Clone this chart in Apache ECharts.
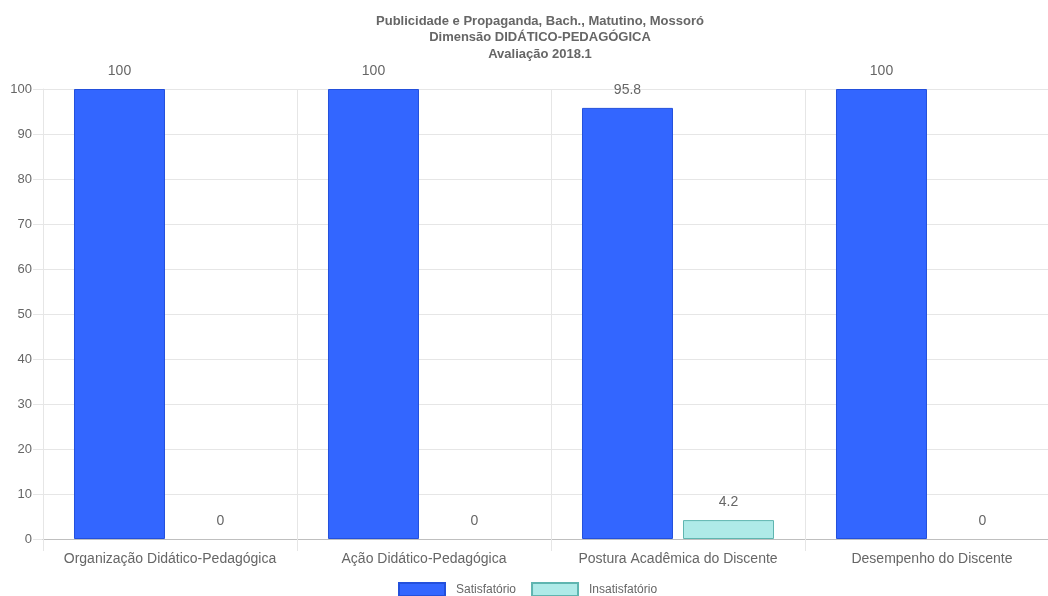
<!DOCTYPE html>
<html>
<head>
<meta charset="utf-8">
<script src="https://cdn.jsdelivr.net/npm/echarts@6/dist/echarts.min.js"></script>
<style>
html,body{margin:0;padding:0;background:#fff;overflow:hidden;width:1048px;height:596px;}
#chart{width:1062px;height:596px;}
</style>
</head>
<body>
<div id="chart"></div>
<script>
var titleLines = ['Publicidade e Propaganda, Bach., Matutino, Mossoró', 'Dimensão DIDÁTICO-PEDAGÓGICA', 'Avaliação 2018.1'];
var categories = ['Organização Didático-Pedagógica', 'Ação Didático-Pedagógica', 'Postura Acadêmica do Discente', 'Desempenho do Discente'];
var seriesNames = ['Satisfatório', 'Insatisfatório'];
var satisfatorio = [100, 100, 95.8, 100];
var insatisfatorio = [0, 0, 4.2, 0];
var yTicks = [0, 10, 20, 30, 40, 50, 60, 70, 80, 90, 100];

var FONT = '"Liberation Sans", Arial, Helvetica, sans-serif';
var chart = echarts.init(document.getElementById('chart'), null, {renderer: 'canvas'});
var labelStyle = {show: true, position: 'top', distance: 11, color: '#666', fontSize: 14, fontFamily: FONT};
function toItems(arr) {
  return arr.map(function (v) {
    return v === 0 ? {value: v, itemStyle: {borderWidth: 0}} : v;
  });
}
chart.setOption({
  animation: false,
  backgroundColor: '#fff',
  title: {
    text: titleLines.join('\n'),
    left: 540,
    top: 13,
    padding: 0,
    textAlign: 'center',
    textStyle: {fontSize: 13, fontWeight: 'bold', color: '#666', fontFamily: FONT, lineHeight: 16.5}
  },
  legend: {
    data: seriesNames,
    left: 398,
    top: 582,
    padding: 0,
    itemWidth: 46,
    itemHeight: 13,
    itemGap: 15,
    icon: 'rect',
    textStyle: {color: '#666', fontSize: 12, fontFamily: FONT, padding: [0, 0, 0, 6]}
  },
  grid: {left: 43, right: 3, top: 89, bottom: 57, containLabel: false},
  xAxis: {
    type: 'category',
    data: categories,
    z: 5,
    axisLine: {show: true, lineStyle: {color: '#bfbfbf', width: 1}},
    axisTick: {show: true, length: 12, interval: 0, lineStyle: {color: '#e6e6e6'}},
    splitLine: {show: true, interval: 0, lineStyle: {color: '#e6e6e6'}},
    axisLabel: {color: '#666', fontSize: 14, fontFamily: FONT, margin: 13, interval: 0}
  },
  yAxis: {
    type: 'value',
    min: yTicks[0],
    max: yTicks[yTicks.length - 1],
    interval: yTicks[1] - yTicks[0],
    axisLine: {show: true, lineStyle: {color: '#e6e6e6'}},
    axisTick: {show: true, length: 10, lineStyle: {color: '#e6e6e6'}},
    splitLine: {show: true, lineStyle: {color: '#e6e6e6'}},
    axisLabel: {color: '#666', fontSize: 13, fontFamily: FONT, margin: 11}
  },
  series: [
    {
      name: seriesNames[0],
      type: 'bar',
      data: toItems(satisfatorio),
      barWidth: 91,
      barGap: '11%',
      itemStyle: {color: '#3366ff', borderColor: '#2350dc', borderWidth: 1},
      label: labelStyle
    },
    {
      name: seriesNames[1],
      type: 'bar',
      data: toItems(insatisfatorio),
      barWidth: 91,
      barGap: '11%',
      itemStyle: {color: '#afeae8', borderColor: '#5fb5b0', borderWidth: 1},
      label: labelStyle
    }
  ]
});
</script>
</body>
</html>
